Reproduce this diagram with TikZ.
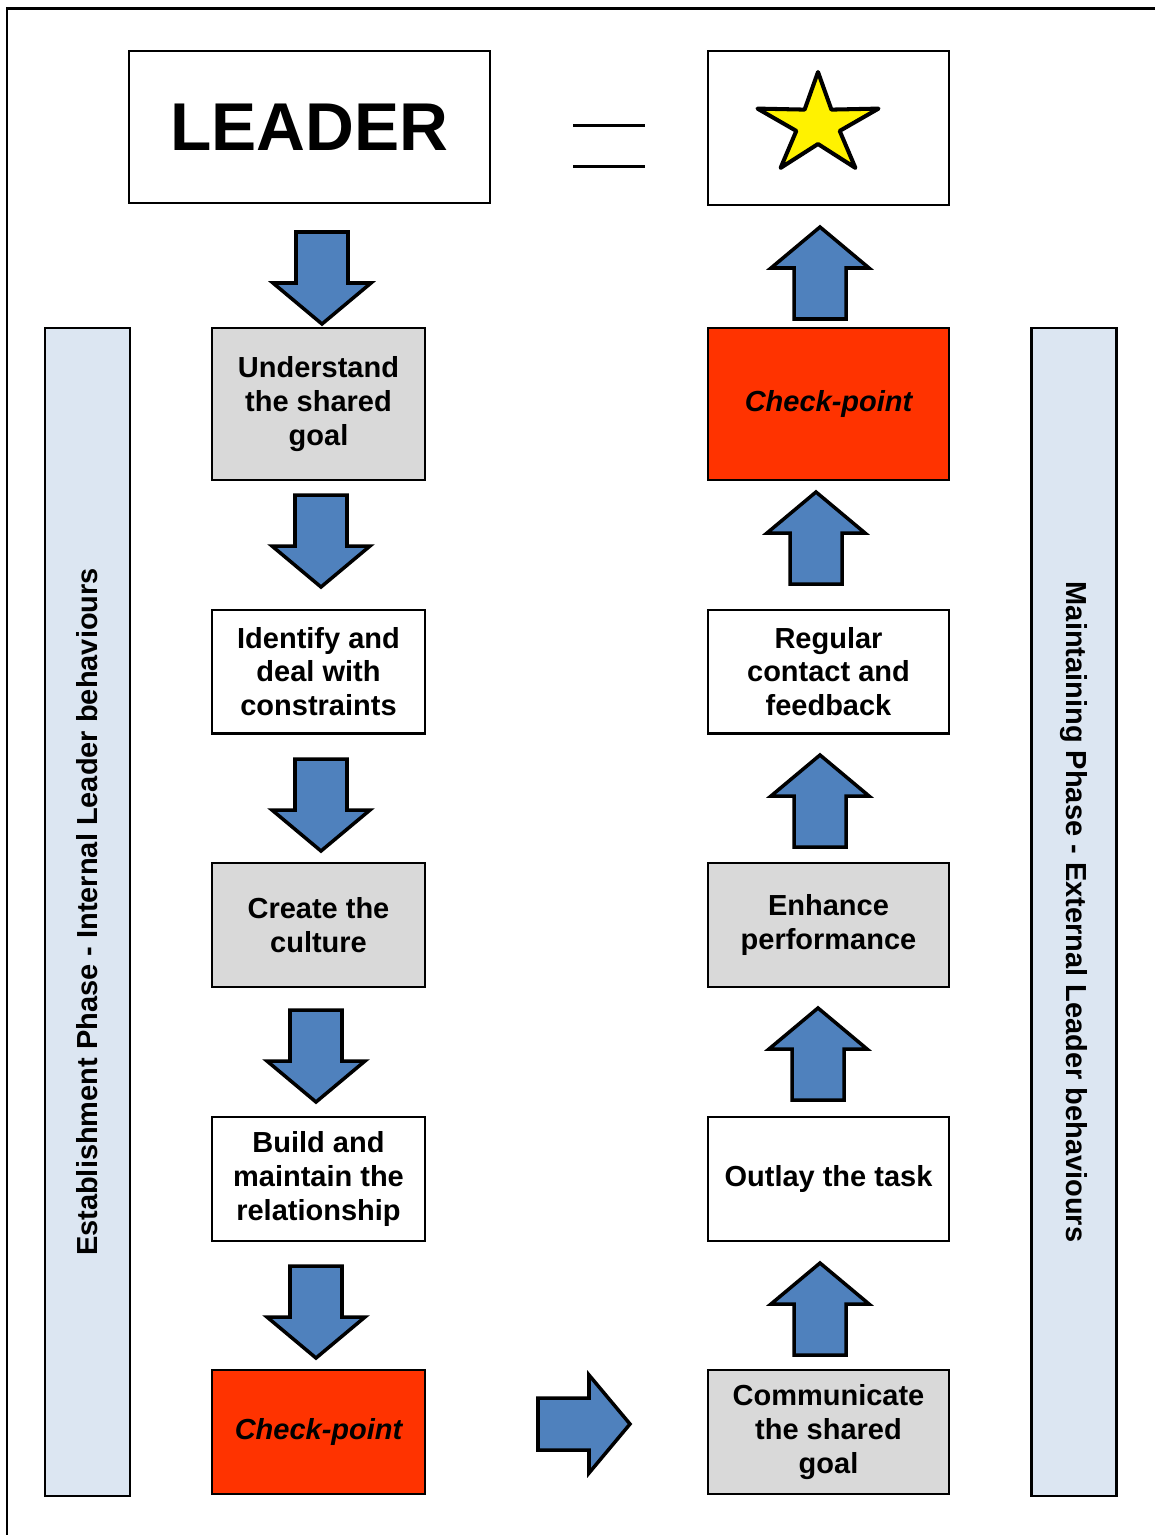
\documentclass[tikz,border=0pt]{standalone}
\usepackage{fontspec}
\setmainfont{Liberation Sans}
\usepackage{tikz}
\usetikzlibrary{positioning}
\usetikzlibrary{calc}

\definecolor{barblue}{HTML}{DCE6F2}
\definecolor{boxgrey}{HTML}{D9D9D9}
\definecolor{checkred}{HTML}{FF3300}
\definecolor{arrowblue}{HTML}{4F81BD}

\newcommand{\boxfont}{\fontsize{16.5}{19.3}\selectfont\bfseries}

\tikzstyle{stage} = [draw,line width=1.2pt,align=center,font=\boxfont,minimum height=2.48cm]
\tikzstyle{leftstage} = [stage,minimum width=4.26cm]
\tikzstyle{rightstage} = [stage,minimum width=4.82cm]
\tikzstyle{sidebar} = [draw,line width=1.2pt,fill=barblue,font=\boxfont,minimum width=23.36cm,minimum height=1.7cm]
\tikzstyle{blockarrow} = [draw=black,line width=2pt,fill=arrowblue,line join=miter]

% block arrow: #1 = centre of its back end, #2 = rotation (0 = pointing down)
\newcommand{\blockarr}[2]{%
  \draw[blockarrow,shift={(#1)},rotate=#2] (-26,0) -- (-26,51) -- (-49,51) -- (0,92) -- (49,51) -- (26,51) -- (26,0) -- cycle;}

\begin{document}
\begin{tikzpicture}[x=0.02cm,y=-0.02cm]
				\useasboundingbox (0,0) rectangle (1155,1535);
				%Frame
				\draw[line width=0.06cm] (7,1535) -- (7,8) -- (1155,8);

				%Top row
				\node[draw,line width=1.2pt,minimum width=7.22cm,minimum height=3.04cm,font=\fontsize{38.5}{40}\selectfont\bfseries] (leader) at (309.5,127) {LEADER};
				\node[draw,line width=1.2pt,minimum width=4.82cm,minimum height=3.08cm] (goalbox) at (828.5,128) {};
				\draw[line width=0.06cm] (573,125) -- (645,125);
				\draw[line width=0.06cm] (573,166) -- (645,166);
				\draw[line width=2.3pt,line join=round,fill=yellow] (818,72) -- (804.6,109.6) -- (757.5,108.6) -- (796.3,130.9) -- (780.6,167.9) -- (818,144) -- (855.4,167.9) -- (839.7,130.9) -- (878.5,108.6) -- (831.4,109.6) -- cycle;

				%Establishment phase
				\node[leftstage,fill=boxgrey,minimum height=3.04cm] (understand) at (318.5,404) {Understand\\the shared\\goal};
				\node[leftstage,below=2.55cm of understand] (identify) {Identify and\\deal with\\constraints};
				\node[leftstage,fill=boxgrey,below=2.55cm of identify] (culture) {Create the\\culture};
				\node[leftstage,below=2.55cm of culture] (relation) {Build and\\maintain the\\relationship};
				\node[leftstage,fill=checkred,below=2.55cm of relation,font=\boxfont\itshape] (checkA) {Check-point};

				%Maintaining phase
				\node[rightstage,fill=checkred,minimum height=3.04cm,font=\boxfont\itshape] (checkB) at (828.5,404) {Check-point};
				\node[rightstage,below=2.55cm of checkB] (contact) {Regular\\contact and\\feedback};
				\node[rightstage,fill=boxgrey,below=2.55cm of contact] (enhance) {Enhance\\performance};
				\node[rightstage,below=2.55cm of enhance] (outlay) {Outlay the task};
				\node[rightstage,fill=boxgrey,below=2.55cm of outlay] (communicate) {Communicate\\the shared\\goal};

				%Side bars
				\node[sidebar,rotate=90] (estbar) at (87.5,912) {Establishment Phase - Internal Leader behaviours};
				\node[sidebar,rotate=-90] (mainbar) at (1074,912) {Maintaining Phase - External Leader behaviours};

				%Arrows
				\blockarr{322,232}{0}
				\blockarr{321,495}{0}
				\blockarr{321,759}{0}
				\blockarr{316,1010}{0}
				\blockarr{316,1266}{0}
				\blockarr{538,1424}{90}
				\blockarr{820,1355}{180}
				\blockarr{818,1100}{180}
				\blockarr{820,847}{180}
				\blockarr{816,584}{180}
				\blockarr{820,319}{180}
			\end{tikzpicture}
\end{document}
